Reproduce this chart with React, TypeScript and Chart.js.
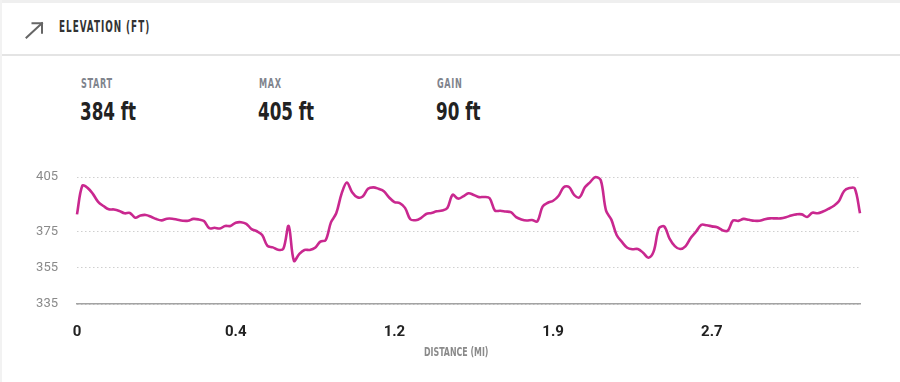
import React, { useEffect, useRef } from 'react';
import { Chart, registerables } from 'chart.js';

Chart.register(...registerables);

// Elevation samples (ft), evenly spaced along the route
const elevation = [
  384.4, 400.2, 399, 395.7, 391.3, 389, 387.2, 387.1, 386.3, 385,
  385.2, 382.6, 383.8, 384.1, 383.1, 381.8, 381.1, 382, 382, 381.4,
  380.9, 380.9, 381.9, 381.6, 380.7, 376.8, 377, 376.6, 378, 378,
  379.8, 380.1, 379.2, 376.3, 375.1, 373, 367, 366.2, 364.9, 365.4,
  378, 358.8, 362.5, 364.8, 364.8, 366, 369.4, 370.2, 380, 385,
  395.7, 402, 396.6, 393.8, 394.2, 398.5, 399.3, 398.5, 397.2, 393.7,
  391.2, 390.6, 388, 381.7, 381.2, 382.4, 384.6, 385.2, 386.1, 386.5,
  387.9, 395.2, 393.1, 394.3, 396, 395.1, 393.9, 394, 393.3, 386.5,
  386.4, 386, 385.6, 382.9, 381.6, 381, 381.3, 380.5, 388.7, 390.8,
  391.9, 394.5, 399.4, 399.5, 395, 393.8, 399.3, 402.2, 405, 403.2,
  386.5, 381.5, 373, 369.2, 366, 365.2, 365.3, 363.3, 360.5, 364,
  376.7, 377.7, 371, 366.9, 365.3, 366.8, 371.4, 374.8, 378.6, 378.4,
  377.8, 377.3, 375.7, 375.4, 381, 380.8, 381.9, 381.4, 380.9, 380.9,
  381.7, 382.2, 382.2, 382.2, 382.8, 383.8, 384.4, 384.4, 383, 385.3,
  385, 386, 387.4, 389, 391.6, 397.3, 398.9, 398.8, 385,
];

const xTickIndices = [0, 30, 60, 90, 120];
const xTickLabels = ['0', '0.4', '1.2', '1.9', '2.7'];
const yTickValues = [335, 355, 375, 405];

const statLabels = ['START', 'MAX', 'GAIN'];
const statValues = ['384 ft', '405 ft', '90 ft'];

const LINE_COLOR = '#c9288f';
const NARROW = "'Liberation Sans Narrow', 'DejaVu Sans Condensed', sans-serif";

function Squeezed(props: { text: string; style: React.CSSProperties; scale: number }) {
  return (
    <div
      style={{
        position: 'absolute',
        whiteSpace: 'nowrap',
        transform: `scaleX(${props.scale})`,
        transformOrigin: 'left top',
        ...props.style,
      }}
    >
      {props.text}
    </div>
  );
}

export default function App() {
  const canvasRef = useRef<HTMLCanvasElement | null>(null);

  useEffect(() => {
    document.body.style.margin = '0';
    const canvas = canvasRef.current;
    if (!canvas) return;
    const chart = new Chart(canvas, {
      type: 'line',
      data: {
        datasets: [
          {
            data: elevation.map((v, i) => ({ x: i, y: v })),
            borderColor: LINE_COLOR,
            borderWidth: 2.6,
            pointRadius: 0,
            tension: 0.35,
            fill: false,
            clip: 8,
          },
        ],
      },
      options: {
        animation: false,
        responsive: false,
        maintainAspectRatio: false,
        layout: { padding: { top: 17, right: 40, left: 0, bottom: 0 } },
        plugins: { legend: { display: false }, tooltip: { enabled: false } },
        scales: {
          x: {
            type: 'linear',
            min: 0,
            max: elevation.length - 1,
            grid: { display: false },
            border: { display: true, color: '#a3a3a3', width: 1.5 },
            afterBuildTicks: (s: any) => {
              s.ticks = xTickIndices.map((v) => ({ value: v }));
            },
            afterFit: (s: any) => {
              s.height = 78;
            },
            ticks: {
              autoSkip: false,
              maxRotation: 0,
              minRotation: 0,
              padding: 11,
              color: '#222222',
              font: { family: 'Roboto', weight: 'bold', size: 15 },
              callback: (v: any) => {
                const k = xTickIndices.indexOf(Number(v));
                return k >= 0 ? xTickLabels[k] : '';
              },
            },
          },
          y: {
            min: 335,
            max: 405,
            afterBuildTicks: (s: any) => {
              s.ticks = yTickValues.map((v) => ({ value: v }));
            },
            afterFit: (s: any) => {
              s.width = 77;
            },
            border: { display: false, dash: [1.5, 2.5] },
            grid: {
              color: '#cfcfcf',
              lineWidth: 1,
              drawTicks: true,
              tickLength: 19,
              tickColor: 'rgba(0,0,0,0)',
            },
            ticks: {
              padding: 0,
              color: '#8a8a8a',
              font: { family: 'Roboto', size: 13 },
            },
          },
        },
      },
    } as any);
    return () => chart.destroy();
  }, []);

  return (
    <div
      style={{
        position: 'relative',
        width: 900,
        height: 382,
        background: '#ffffff',
        overflow: 'hidden',
        fontFamily: NARROW,
      }}
    >
      <div style={{ position: 'absolute', left: 0, top: 0, width: 900, height: 3, background: '#efefef' }} />
      <div style={{ position: 'absolute', left: 0, top: 0, width: 2, height: 382, background: '#f2f2f2' }} />
      <svg
        style={{ position: 'absolute', left: 0, top: 0 }}
        width={60}
        height={50}
        viewBox="0 0 60 50"
      >
        <g stroke="#666" strokeWidth={2} fill="none" strokeLinecap="square">
          <line x1={26.5} y1={37.5} x2={42} y2={23.2} />
          <polyline points="32.5,23.2 42,23.2 42,32.8" />
        </g>
      </svg>
      <Squeezed
        text="ELEVATION (FT)"
        scale={0.655}
        style={{
          left: 59,
          top: 20,
          fontSize: 15,
          lineHeight: '15px',
          fontWeight: 'bold',
          letterSpacing: 1.5,
          color: '#333333',
        }}
      />
      <div style={{ position: 'absolute', left: 2, top: 54, width: 898, height: 1.5, background: '#e4e4e4' }} />
      {statLabels.map((lab, i) => (
        <React.Fragment key={lab}>
          <Squeezed
            text={lab}
            scale={0.67}
            style={{
              left: 81 + i * 178,
              top: 76.5,
              fontSize: 13.5,
              lineHeight: '13.5px',
              fontWeight: 'bold',
              letterSpacing: 1,
              color: '#80848d',
            }}
          />
          <Squeezed
            text={statValues[i]}
            scale={0.745}
            style={{
              left: 80 + i * 178,
              top: 98.5,
              fontSize: 25,
              lineHeight: '25px',
              fontWeight: 'bold',
              color: '#222222',
            }}
          />
        </React.Fragment>
      ))}
      <canvas
        ref={canvasRef}
        width={900}
        height={222}
        style={{ position: 'absolute', left: 0, top: 160, width: 900, height: 222 }}
      />
      <Squeezed
        text="DISTANCE (MI)"
        scale={0.73}
        style={{
          left: 424,
          top: 345.5,
          fontSize: 12,
          lineHeight: '12px',
          fontWeight: 'bold',
          color: '#8a8a8a',
        }}
      />
    </div>
  );
}
